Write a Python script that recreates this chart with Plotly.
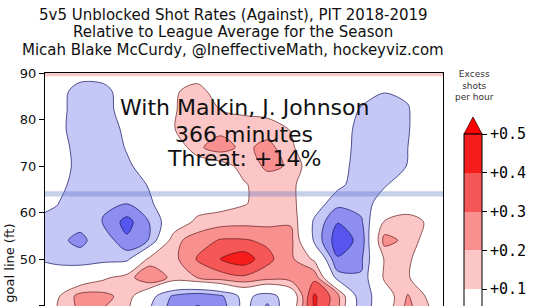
import plotly.graph_objects as go

# ---------------- data ----------------
X_FT = [-45, -40, -35, -30, -25, -20, -15, -10, -5, 0, 5, 10, 15, 20, 25, 30, 35, 40, 45]
Y_FT = [38, 42, 46, 50, 54, 58, 62, 66, 70, 74, 78, 82, 86, 90]

# excess shots per hour relative to league average, one row per Y_FT value
Z_Y38 = [0.0, 0.1, 0.2, 0.18, 0.12, -0.12, -0.25, -0.33, -0.28, -0.05, -0.26, 0.05, 0.4, 0.2, -0.2, 0.05, 0.24, 0.1, 0.0]
Z_Y42 = [0.0, 0.08, 0.24, 0.23, 0.16, -0.06, -0.22, -0.27, -0.22, -0.06, -0.16, -0.02, 0.42, 0.24, -0.2, 0.02, 0.21, 0.06, 0.0]
Z_Y46 = [0.0, -0.03, 0.0, 0.08, 0.15, 0.3, 0.16, 0.2, 0.25, 0.28, 0.24, 0.25, 0.27, -0.15, -0.19, 0.12, 0.11, 0.0, 0.0]
Z_Y50 = [-0.1, -0.13, -0.15, -0.14, -0.13, 0.14, 0.17, 0.31, 0.405, 0.46, 0.33, 0.22, 0.08, -0.29, -0.22, 0.11, 0.12, 0.0, 0.0]
Z_Y54 = [-0.12, -0.17, -0.23, -0.13, -0.28, -0.19, 0.17, 0.25, 0.31, 0.31, 0.28, 0.23, -0.12, -0.36, -0.27, 0.24, 0.17, 0.02, 0.0]
Z_Y58 = [-0.11, -0.13, -0.16, -0.205, -0.34, -0.19, 0.0, 0.13, 0.16, 0.17, 0.17, 0.19, -0.12, -0.295, -0.22, 0.11, 0.14, 0.08, 0.02]
Z_Y62 = [-0.06, -0.095, -0.16, -0.19, -0.195, -0.11, -0.03, 0.03, 0.05, 0.09, 0.15, 0.14, -0.03, -0.17, -0.15, -0.05, 0.04, 0.05, 0.02]
Z_Y66 = [-0.04, -0.06, -0.15, -0.19, -0.15, -0.09, -0.02, 0.01, 0.03, 0.09, 0.15, 0.13, 0.0, -0.07, -0.16, -0.11, -0.04, -0.02, -0.01]
Z_Y70 = [-0.02, -0.05, -0.13, -0.18, -0.12, -0.04, -0.01, 0.0, 0.05, 0.14, 0.22, 0.19, 0.0, -0.04, -0.16, -0.17, -0.095, -0.03, -0.01]
Z_Y74 = [-0.02, -0.05, -0.14, -0.18, -0.09, -0.03, -0.01, 0.18, 0.25, 0.17, 0.24, 0.12, 0.0, -0.03, -0.15, -0.17, -0.10, -0.04, -0.01]
Z_Y78 = [-0.02, -0.06, -0.16, -0.17, -0.07, -0.02, 0.097, 0.15, 0.17, 0.15, 0.14, 0.095, 0.02, -0.03, -0.14, -0.17, -0.105, -0.04, -0.01]
Z_Y82 = [-0.02, -0.06, -0.15, -0.14, -0.05, 0.0, 0.095, 0.13, 0.1, 0.08, 0.07, 0.04, 0.0, -0.03, -0.11, -0.16, -0.105, -0.04, -0.01]
Z_Y86 = [-0.02, -0.06, -0.14, -0.13, -0.05, 0.02, 0.09, 0.13, 0.06, 0.04, 0.04, 0.02, 0.0, -0.02, -0.06, -0.095, -0.09, -0.04, -0.01]
Z_Y90 = [-0.01, -0.03, -0.06, -0.06, -0.03, 0.0, 0.03, 0.06, 0.02, 0.01, 0.01, 0.0, 0.0, -0.01, -0.02, -0.05, -0.04, -0.02, 0.0]

LEVEL_START, LEVEL_END, LEVEL_STEP = -0.5, 0.5, 0.1
COLORBAR_TICKS = [-0.5, -0.4, -0.3, -0.2, -0.1, 0.0, 0.1, 0.2, 0.3, 0.4, 0.5]
COLORBAR_LABELS = ["\u22120.5", "\u22120.4", "\u22120.3", "\u22120.2", "\u22120.1", "+0.0",
                   "+0.1", "+0.2", "+0.3", "+0.4", "+0.5"]
Y_TICKS = [40, 50, 60, 70, 80, 90]

BLUE_LINE_FT = 64
RED_LINE_FT = 89

TITLE_LINES = [
    "5v5 Unblocked Shot Rates (Against), PIT 2018-2019",
    "Relative to League Average for the Season",
    "Micah Blake McCurdy, @IneffectiveMath, hockeyviz.com",
]
OVERLAY_LINES = ["With Malkin, J. Johnson", "366 minutes", "Threat: +14%"]
COLORBAR_TITLE = "Excess<br>shots<br>per hour"
Y_LABEL = "Distance from goal line (ft)"

# ---------------- styling ----------------
# colours of the 12 filled bands: < -0.5, [-0.5,-0.4], ..., [0.4,0.5], > 0.5
BAND_COLORS = ["#0000ff", "#1c1cf2", "#5656ee", "#8e8ef0", "#c5c7f6", "#ffffff",
               "#ffffff", "#fcc6c6", "#f89090", "#f55656", "#f71c1c", "#ff0000"]

W, H = 544, 306
ML, MR, MT, MB = 45, 101, 73, 0
PW, PH = W - ML - MR, H - MT - MB


def px_x(px):
    return (px - ML) / PW


def px_y(py):
    return (H - MB - py) / PH


Z = [Z_Y38, Z_Y42, Z_Y46, Z_Y50, Z_Y54, Z_Y58, Z_Y62, Z_Y66, Z_Y70, Z_Y74,
     Z_Y78, Z_Y82, Z_Y86, Z_Y90]

n_bands = len(BAND_COLORS)
fill_scale = [[i / (n_bands - 1), c] for i, c in enumerate(BAND_COLORS)]

# stepped colour scale for the colour bar (bands from -0.5 to 0.5)
inner = BAND_COLORS[1:-1]
bar_scale = []
for i, c in enumerate(inner):
    bar_scale.append([i / len(inner), c])
    bar_scale.append([(i + 1) / len(inner), c])

SMOOTH = 0.9
fig = go.Figure()
fig.add_trace(go.Contour(
    x=X_FT, y=Y_FT, z=Z,
    autocontour=False,
    contours=dict(start=LEVEL_START, end=LEVEL_END, size=LEVEL_STEP,
                  coloring="fill", showlines=False),
    colorscale=fill_scale, showscale=False,
    line=dict(width=0, smoothing=SMOOTH),
    hoverinfo="skip",
))
fig.add_trace(go.Contour(
    x=X_FT, y=Y_FT, z=Z,
    autocontour=False,
    contours=dict(start=0.1, end=LEVEL_END, size=LEVEL_STEP, coloring="none"),
    line=dict(width=0.9, color="rgba(90,20,20,0.75)", smoothing=SMOOTH),
    showscale=False, hoverinfo="skip",
))
fig.add_trace(go.Contour(
    x=X_FT, y=Y_FT, z=Z,
    autocontour=False,
    contours=dict(start=LEVEL_START, end=-0.1, size=LEVEL_STEP, coloring="none"),
    line=dict(width=0.9, color="rgba(20,20,100,0.8)", smoothing=SMOOTH),
    showscale=False, hoverinfo="skip",
))

# colour bar
CB_LEFT_PX, CB_THICK, CB_TOP_PX, CB_STEP_PX, ARROW_PX = 464, 18, 134, 38.8, 17
fig.add_trace(go.Scatter(
    x=[500], y=[500], mode="markers",
    marker=dict(size=1, color=[0], colorscale=bar_scale,
                cmin=COLORBAR_TICKS[0], cmax=COLORBAR_TICKS[-1], showscale=True,
                colorbar=dict(
                    x=px_x(CB_LEFT_PX), xanchor="left", xpad=0,
                    y=px_y(CB_TOP_PX), yanchor="top", ypad=0,
                    len=CB_STEP_PX * (len(COLORBAR_TICKS) - 1), lenmode="pixels",
                    thickness=CB_THICK, thicknessmode="pixels",
                    outlinewidth=1, outlinecolor="black",
                    ticks="outside", ticklen=5, tickwidth=1, tickcolor="black",
                    tickmode="array", tickvals=COLORBAR_TICKS, ticktext=COLORBAR_LABELS,
                    tickfont=dict(family="DejaVu Sans Mono", size=15, color="black"),
                )),
    hoverinfo="skip", showlegend=False,
))

shapes = [
    dict(type="rect", xref="paper", yref="y", x0=0, x1=1,
         y0=BLUE_LINE_FT - 0.55, y1=BLUE_LINE_FT + 0.6,
         fillcolor="rgba(80,110,190,0.32)", line=dict(width=0), layer="above"),
    dict(type="rect", xref="paper", yref="y", x0=0, x1=1,
         y0=RED_LINE_FT + 0.3, y1=RED_LINE_FT + 1,
         fillcolor="rgba(225,60,60,0.28)", line=dict(width=0), layer="above"),
]
ax0, ax1 = px_x(CB_LEFT_PX), px_x(CB_LEFT_PX + CB_THICK)
ay0, ay1 = px_y(CB_TOP_PX), px_y(CB_TOP_PX - ARROW_PX)
shapes.append(dict(type="path", xref="paper", yref="paper",
                   path=f"M {ax0} {ay0} L {(ax0 + ax1) / 2} {ay1} L {ax1} {ay0} Z",
                   fillcolor=BAND_COLORS[-1], line=dict(width=0.8, color="#400000")))

annotations = []
for txt, py in zip(TITLE_LINES, [14.7, 32.1, 49.5]):
    annotations.append(dict(text=txt, xref="paper", yref="paper", x=px_x(233), y=px_y(py),
                            xanchor="center", yanchor="middle", showarrow=False,
                            font=dict(size=15, color="#111111")))
for txt, py in zip(OVERLAY_LINES, [107.5, 134, 158.5]):
    annotations.append(dict(text=txt, xref="paper", yref="paper", x=0.5, y=px_y(py),
                            xanchor="center", yanchor="middle", showarrow=False,
                            font=dict(size=22, color="#111111")))
annotations.append(dict(text=COLORBAR_TITLE, xref="paper", yref="paper",
                        x=px_x(CB_LEFT_PX + CB_THICK / 2 + 2), y=px_y(85),
                        xanchor="center", yanchor="middle", showarrow=False,
                        font=dict(size=9, color="#333333")))
annotations.append(dict(text=Y_LABEL, xref="paper", yref="paper", x=px_x(9), y=px_y(222),
                        xanchor="center", yanchor="top", textangle=-90, showarrow=False,
                        font=dict(size=13, color="#111111")))

fig.update_layout(
    width=W, height=H, margin=dict(l=ML, r=MR, t=MT, b=MB, pad=0, autoexpand=False),
    paper_bgcolor="white", plot_bgcolor="white",
    font=dict(family="DejaVu Sans", color="#111111"),
    showlegend=False,
    shapes=shapes, annotations=annotations,
    xaxis=dict(range=[-42.5, 42.5], showgrid=False, zeroline=False, side="top",
               showline=True, linecolor="black", linewidth=1, mirror=False,
               ticks="", showticklabels=False, fixedrange=True),
    yaxis=dict(range=[39.9, 90], showgrid=False, zeroline=False,
               showline=True, linecolor="black", linewidth=1, mirror=True,
               ticks="outside", ticklen=5, tickwidth=1, tickcolor="black",
               tickvals=Y_TICKS, tickfont=dict(size=13, color="#111111"),
               fixedrange=True),
)

fig.write_html("out.html")
